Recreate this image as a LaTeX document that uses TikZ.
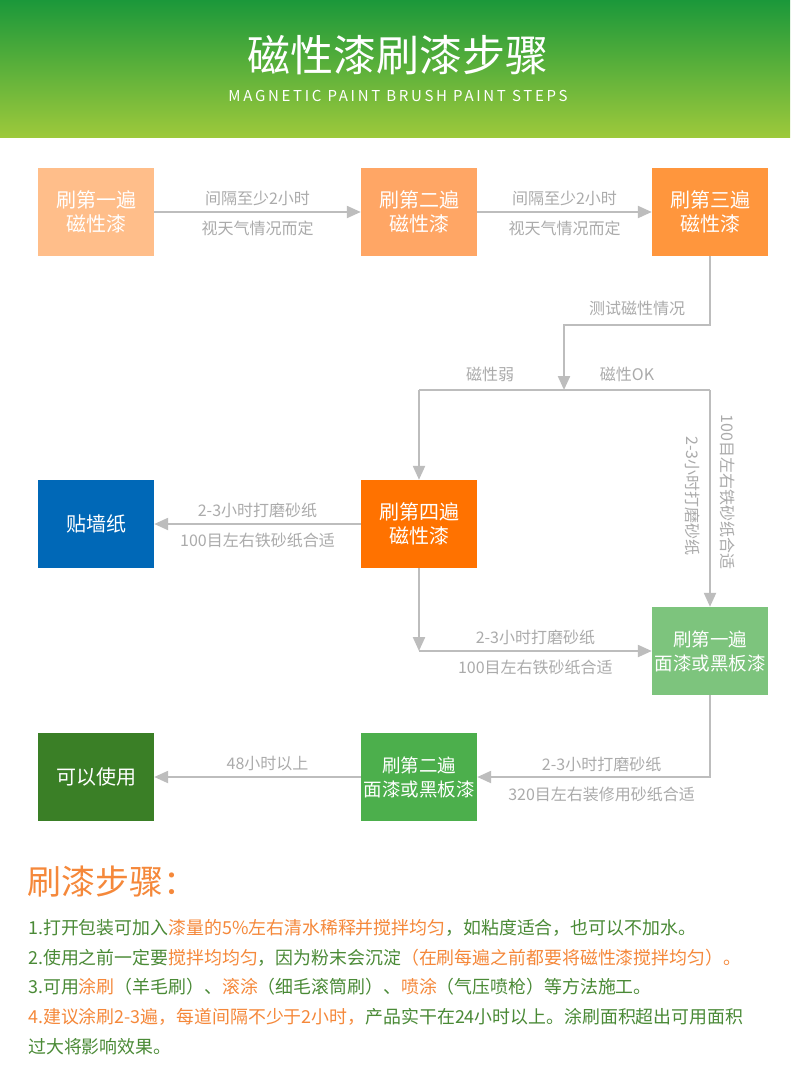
\documentclass[tikz,border=0pt]{standalone}
\usepackage{fontspec}
\setmainfont{Noto Sans CJK SC}
\newfontfamily\subfont[LetterSpace=18]{Noto Sans CJK SC}
\usetikzlibrary{arrows.meta}
\usetikzlibrary{positioning}
\definecolor{hdtop}{HTML}{1B983A}
\definecolor{hdbot}{HTML}{9DC93B}
\definecolor{boxa}{HTML}{FFBE8A}
\definecolor{boxb}{HTML}{FFA665}
\definecolor{boxc}{HTML}{FF963D}
\definecolor{boxd}{HTML}{FF7200}
\definecolor{boxwall}{HTML}{0068B7}
\definecolor{boxg}{HTML}{7DC47D}
\definecolor{boxh}{HTML}{4CAF4C}
\definecolor{boxuse}{HTML}{3A7F26}
\definecolor{linegray}{HTML}{BDBDBD}
\definecolor{labelgray}{HTML}{ABABAB}
\definecolor{txtgreen}{HTML}{4A8A36}
\definecolor{txtorange}{HTML}{F5883A}
\tikzstyle{stepbox}=[rectangle,minimum width=116pt,minimum height=88pt,inner sep=0pt,text=white,align=center,font=\fontsize{20}{24}\selectfont]
\tikzstyle{greenbox}=[stepbox,font=\fontsize{18.5}{24}\selectfont]
\tikzstyle{edge} = [draw=linegray,line width=2.2pt,-{Triangle[length=14pt,width=12pt]}]
\tikzstyle{plainedge} = [draw=linegray,line width=2.2pt]
\tikzstyle{weight} = [font=\fontsize{16}{18}\selectfont,text=labelgray,inner sep=0pt]
\tikzstyle{noteline} = [anchor=west,inner sep=0pt,text=txtgreen,font=\fontsize{17.9}{20}\selectfont]

\begin{document}
\begin{tikzpicture}[x=1pt,y=-1pt]
    \fill[white] (0,0) rectangle (790,1070);
    \useasboundingbox (0,0) rectangle (790,1070);
    % Header band
    \shade[top color=hdtop,bottom color=hdbot] (0,0) rectangle (790,137);
    \node[text=white,font=\fontsize{43}{46}\selectfont] (title) at (398,55) {磁性漆刷漆步骤};
    \node[text=white,font=\subfont\fontsize{15}{17}\selectfont] (subtitle) at (398,96) {MAGNETIC PAINT BRUSH PAINT STEPS};

    % First we draw the steps
    \foreach \pos/\name/\col/\label in {{(96,212)/b1/boxa/刷第一遍\\磁性漆}, {(419,212)/b2/boxb/刷第二遍\\磁性漆}, {(710,212)/b3/boxc/刷第三遍\\磁性漆}, {(419,524)/b4/boxd/刷第四遍\\磁性漆}, {(96,524)/wall/boxwall/贴墙纸}, {(96,777)/use/boxuse/可以使用}}
        \node[stepbox,fill=\col] (\name) at \pos {\label};
    \foreach \pos/\name/\col/\label in {{(710,651)/g1/boxg/刷第一遍\\面漆或黑板漆}, {(419,777)/g2/boxh/刷第二遍\\面漆或黑板漆}}
        \node[greenbox,fill=\col] (\name) at \pos {\label};

    % Turning points of the connectors
    \coordinate (t1) at (710,325);
    \coordinate (t2) at (564,325);
    \coordinate (j1) at (564,390);
    \coordinate (jl) at (419,390);
    \coordinate (jr) at (710,390);
    \coordinate (j3) at (419,651);
    \coordinate (t3) at (710,777);

    % Connect steps with edges and draw labels
    \foreach \source/\dest/\up/\down in {b1/b2/间隔至少2小时/视天气情况而定, b2/b3/间隔至少2小时/视天气情况而定, b4/wall/2-3小时打磨砂纸/100目左右铁砂纸合适, j3/g1/2-3小时打磨砂纸/100目左右铁砂纸合适}
        \path[edge] (\source) -- node[weight,yshift=14pt] {\up} node[weight,yshift=-16pt] {\down} (\dest);

    \path[edge] (b3) -- (t1) -- node[weight,yshift=17pt] {测试磁性情况} (t2) -- (j1);
    \path[plainedge] (jl) -- node[weight,pos=0.244,yshift=16pt] {磁性弱} node[weight,pos=0.715,yshift=16pt] {磁性OK} (jr);
    \path[edge] (jl) -- (b4);
    \path[edge] (jr) -- (g1);
    \node[weight,rotate=-90] (v1) at (693,496) {2-3小时打磨砂纸};
    \node[weight,rotate=-90] (v2) at (728,492) {100目左右铁砂纸合适};
    \path[edge] (b4) -- (j3);
    \path[edge] (g1) -- (t3) -- node[weight,xshift=8pt,yshift=13pt] {2-3小时打磨砂纸} node[weight,xshift=8pt,yshift=-17pt] {320目左右装修用砂纸合适} (g2);
    \path[edge] (g2) -- node[weight,xshift=10pt,yshift=14pt] {48小时以上} (use);

    % Notes below
    \node[anchor=west,inner sep=0pt,text=txtorange,font=\fontsize{34}{38}\selectfont] (steps) at (27,882) {刷漆步骤：};
    \node[noteline] (n1) at (28,928) {1.打开包装可加入\textcolor{txtorange}{漆量的5\%左右清水稀释并搅拌均匀}，如粘度适合，也可以不加水。};
    \node[noteline] (n2) at (28,958) {2.使用之前一定要\textcolor{txtorange}{搅拌均均匀}，因为粉末会沉淀\textcolor{txtorange}{（在刷每遍之前都要将磁性漆搅拌均匀）。}};
    \node[noteline] (n3) at (28,987) {3.可用\textcolor{txtorange}{涂刷}（羊毛刷）、\textcolor{txtorange}{滚涂}（细毛滚筒刷）、\textcolor{txtorange}{喷涂}（气压喷枪）等方法施工。};
    \node[noteline] (n4) at (28,1017) {\textcolor{txtorange}{4.建议涂刷2-3遍，每道间隔不少于2小时，}产品实干在24小时以上。涂刷面积超出可用面积};
    \node[noteline] (n5) at (28,1047) {过大将影响效果。};
\end{tikzpicture}
\end{document}
